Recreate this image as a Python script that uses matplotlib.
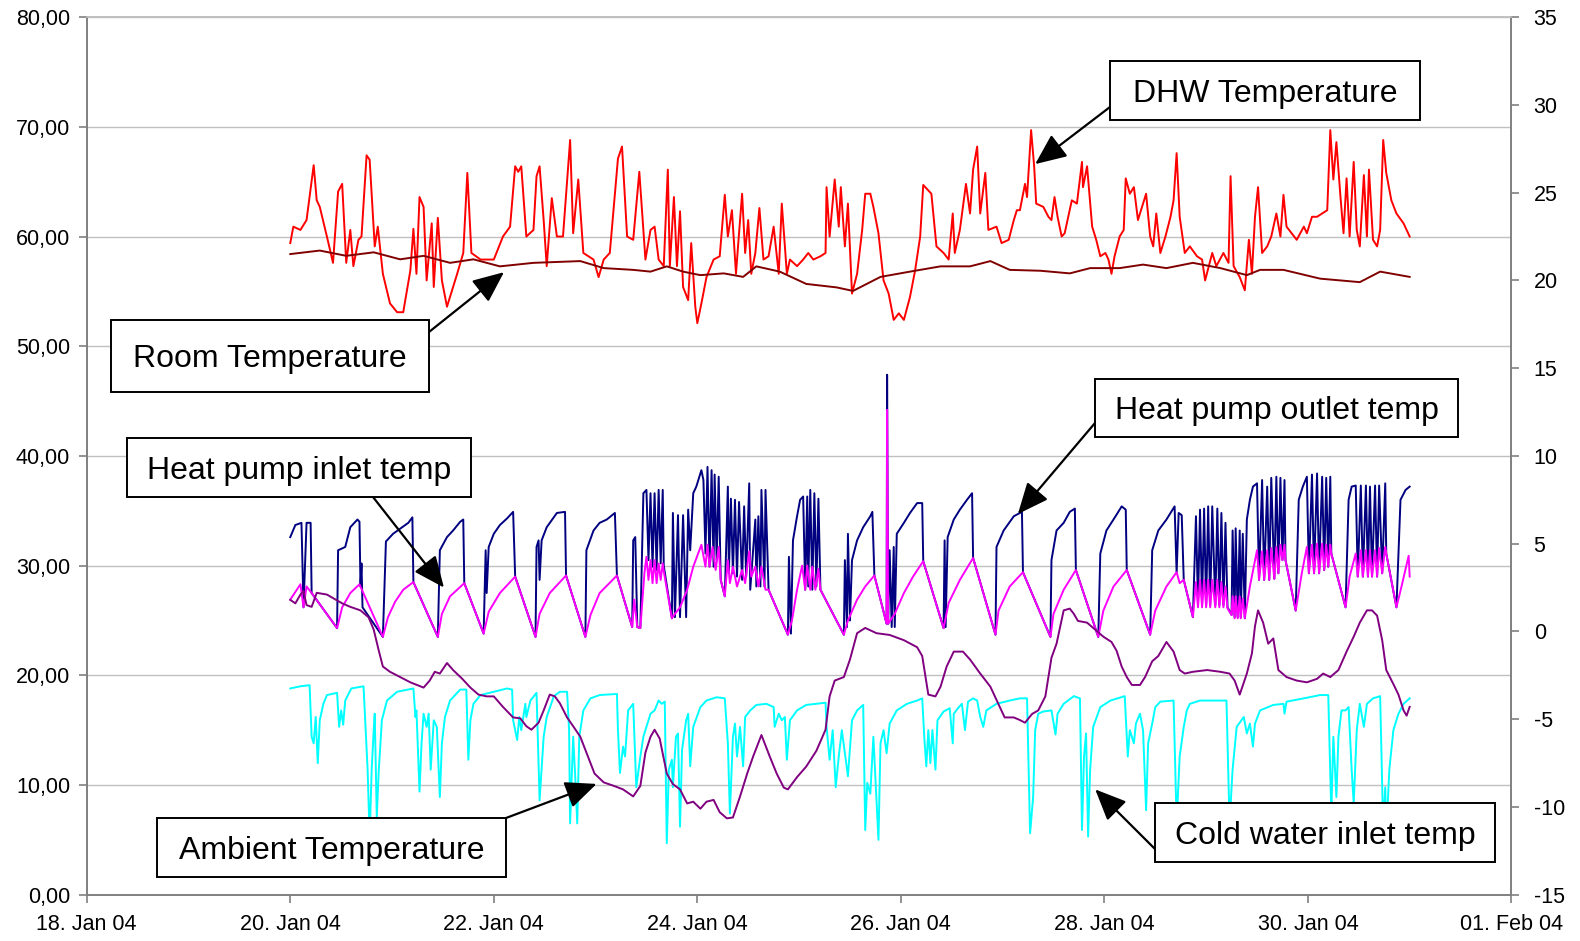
import matplotlib
matplotlib.use("Agg")
import matplotlib.pyplot as plt
import matplotlib.dates as mdates
from matplotlib.patches import Rectangle
from matplotlib.ticker import FuncFormatter, MultipleLocator
import numpy as np
import pandas as pd

plt.rcParams["font.family"] = ["Liberation Sans", "DejaVu Sans"]
plt.rcParams["axes.unicode_minus"] = False

# (day of January 2004, temperature)
dhw = [(20.00,59.4),(20.03,60.9),(20.10,60.6),(20.16,61.5),(20.23,66.5),(20.26,63.3),(20.29,62.7),(20.36,60.0),(20.42,57.6),(20.47,64.1),(20.51,64.8),(20.55,57.6),(20.59,60.6),(20.62,57.3),(20.67,59.7),(20.70,60.0),(20.75,67.4),(20.78,67.0),(20.83,59.1),(20.86,60.9),(20.91,56.6),(20.98,53.9),(21.05,53.1),(21.11,53.1),(21.18,56.9),(21.21,60.7),(21.24,56.6),(21.27,63.6),(21.31,62.7),(21.34,56.0),(21.39,61.2),(21.41,55.4),(21.45,61.7),(21.49,56.0),(21.54,53.6),(21.64,56.6),(21.70,58.5),(21.74,65.8),(21.78,58.5),(21.87,57.9),(22.00,57.9),(22.09,60.0),(22.16,60.9),(22.21,66.4),(22.24,65.9),(22.27,66.4),(22.32,60.0),(22.39,60.6),(22.42,65.5),(22.45,66.4),(22.49,61.5),(22.52,57.3),(22.57,63.5),(22.62,60.0),(22.68,60.0),(22.75,68.8),(22.78,60.3),(22.83,65.2),(22.88,58.5),(22.98,57.9),(23.03,56.3),(23.08,57.9),(23.14,58.5),(23.22,67.1),(23.26,68.2),(23.31,60.0),(23.37,59.7),(23.43,65.9),(23.49,57.9),(23.54,60.6),
       (23.58,60.9),(23.62,57.9),(23.67,57.3),(23.71,66.1),(23.73,57.3),(23.77,63.6),(23.80,57.3),(23.83,62.3),(23.86,55.4),(23.91,54.2),(23.94,59.4),(23.98,53.6),(24.00,52.1),(24.04,53.9),(24.09,56.3),(24.16,57.9),(24.22,58.2),(24.27,63.8),(24.30,60.0),(24.34,62.4),(24.38,56.6),(24.40,59.1),(24.44,63.9),(24.47,58.5),(24.50,61.5),(24.53,56.6),(24.57,58.5),(24.61,62.6),(24.65,57.9),(24.70,58.2),(24.75,60.9),(24.80,56.6),(24.83,63.0),(24.88,56.6),(24.91,57.9),(24.98,57.3),(25.04,57.9),(25.09,58.5),(25.14,57.9),(25.21,58.2),(25.26,58.5),(25.27,64.5),(25.30,60.0),(25.35,65.2),(25.39,60.9),(25.41,64.5),(25.45,59.1),(25.48,63.0),(25.52,54.8),(25.57,56.6),(25.62,60.6),(25.65,63.9),(25.70,63.9),(25.73,62.7),(25.78,60.3),(25.83,56.0),(25.88,54.8),(25.93,52.4),(25.98,53.0),(26.03,52.4),(26.09,54.5),(26.14,56.9),(26.19,60.0),(26.22,64.7),(26.27,64.2),(26.30,63.9),(26.35,59.1),(26.42,58.5),(26.47,57.9),(26.51,62.1),(26.53,58.5),(26.58,60.6),(26.64,64.8),(26.68,62.1),(26.71,66.1),(26.75,68.2),(26.78,62.1),(26.83,65.8),(26.86,60.6),(26.94,60.9),(26.99,59.4),(27.06,59.7),(27.11,61.5),(27.14,62.4),
       (27.17,62.4),(27.22,64.8),(27.24,63.6),(27.28,69.7),(27.31,66.4),(27.33,63.0),(27.40,62.7),(27.45,61.8),(27.48,61.5),(27.51,63.6),(27.54,61.8),(27.58,60.0),(27.61,60.3),(27.68,63.3),(27.73,63.0),(27.78,66.8),(27.79,64.5),(27.83,66.4),(27.88,60.9),(27.92,59.7),(27.96,58.2),(28.01,58.5),(28.04,57.9),(28.07,56.6),(28.10,58.2),(28.15,60.0),(28.19,60.6),(28.21,65.3),(28.25,63.9),(28.29,64.5),(28.33,61.5),(28.38,63.0),(28.41,63.9),(28.45,60.0),(28.48,59.1),(28.51,62.1),(28.55,58.5),(28.60,60.0),(28.65,61.8),(28.68,63.3),(28.71,67.6),(28.74,61.8),(28.79,58.5),(28.84,59.1),(28.91,58.2),(28.96,57.9),(28.99,56.0),(29.06,58.5),(29.10,57.3),(29.17,58.5),(29.22,57.6),(29.24,65.5),(29.27,57.3),(29.33,56.3),(29.38,55.1),(29.42,59.7),(29.45,56.6),(29.48,61.8),(29.51,64.5),(29.55,58.5),(29.60,59.1),(29.64,60.0),(29.69,62.1),(29.73,60.0),(29.76,63.8),(29.79,60.9),(29.84,60.3),(29.89,59.7),(29.96,60.9),(29.99,60.3),(30.04,61.8),(30.09,61.8),(30.14,62.1),(30.19,62.4),(30.22,69.7),(30.25,65.2),(30.28,68.6),(30.32,63.6),(30.35,60.3),(30.38,65.3),(30.41,60.0),(30.45,66.8),(30.48,60.6),(30.51,59.1),(30.55,65.6),(30.58,60.0),(30.60,66.1),(30.64,59.7),(30.68,59.1),(30.71,60.6),(30.74,68.8),(30.77,65.8),(30.82,63.3),(30.87,62.1),(30.94,61.2),(31.00,60.0)]

room = [(20.00,21.5),(20.29,21.7),(20.55,21.4),(20.82,21.6),(21.08,21.2),(21.31,21.4),(21.57,21.0),(21.80,21.2),(22.06,20.8),(22.39,21.0),(22.85,21.1),(23.08,20.7),(23.37,20.6),(23.54,20.5),(23.70,20.8),(23.86,20.5),(24.03,20.3),(24.26,20.4),(24.45,20.2),(24.58,20.8),(24.81,20.5),(25.07,19.8),(25.37,19.6),(25.53,19.4),(25.80,20.2),(26.09,20.5),(26.39,20.8),(26.68,20.8),(26.88,21.1),(27.07,20.6),(27.37,20.55),(27.66,20.4),(27.86,20.7),(28.15,20.7),(28.38,20.9),(28.61,20.7),(28.87,21.0),(29.14,20.7),(29.40,20.3),(29.53,20.6),(29.76,20.6),(30.12,20.1),(30.51,19.9),(30.71,20.5),(31.00,20.2)]

hp_outlet = [(20.00,32.6),(20.05,33.7),(20.11,33.9),(20.13,26.2),(20.16,33.9),(20.20,33.9),(20.21,27.5),(20.46,24.3),(20.47,31.4),(20.54,31.7),(20.59,33.5),(20.66,34.2),(20.68,34.0),(20.69,28.1),(20.70,30.2),(20.71,26.2),(20.91,23.5),(20.94,32.2),(21.01,32.9),(21.10,33.5),(21.16,33.9),(21.20,34.4),(21.21,28.5),(21.45,23.5),(21.47,31.4),(21.54,32.6),(21.60,33.2),(21.67,34.0),(21.70,34.2),(21.71,28.4),(21.90,23.8),(21.92,31.4),(21.93,27.5),(21.95,31.7),(22.00,32.9),(22.06,33.7),(22.13,34.3),(22.19,34.9),(22.21,29.0),(22.41,23.5),(22.42,31.7),(22.44,32.3),(22.45,28.7),(22.47,32.3),(22.52,33.5),(22.62,34.8),(22.70,34.9),(22.71,29.1),(22.90,23.5),(22.91,31.4),(22.98,33.2),(23.04,33.9),(23.11,34.2),(23.19,34.8),(23.21,29.1),(23.36,24.4),(23.37,32.3),(23.39,32.6),(23.41,24.4),(23.44,24.3),
             (23.47,36.6),(23.50,36.9),(23.52,30.5),(23.54,36.6),(23.56,29.9),(23.58,36.6),(23.60,29.6),(23.62,36.9),(23.64,30.2),(23.66,36.9),(23.67,30.0),(23.75,25.2),(23.76,34.8),(23.78,25.3),(23.81,34.6),(23.83,25.3),(23.86,34.6),(23.89,25.3),(23.91,35.1),(23.93,31.4),(23.96,36.6),(23.99,37.2),(24.04,38.7),(24.06,37.8),(24.08,31.1),(24.10,39.0),(24.12,29.9),(24.14,38.7),(24.16,29.9),(24.17,38.3),(24.19,30.5),(24.21,38.1),(24.23,28.7),(24.27,27.2),(24.30,37.2),(24.31,29.3),(24.33,36.1),(24.35,29.3),(24.37,36.0),(24.39,29.0),(24.41,35.8),(24.44,28.7),(24.46,35.4),(24.48,29.0),(24.51,37.5),(24.52,27.8),(24.57,34.2),(24.58,28.1),(24.60,34.5),(24.62,28.1),(24.63,36.9),(24.66,28.1),(24.67,36.9),(24.70,27.8),(24.89,23.7),(24.90,30.8),(24.92,23.8),(24.94,32.3),(24.98,34.5),(25.01,36.0),(25.04,36.3),(25.06,27.8),(25.08,36.3),(25.09,28.1),(25.11,36.9),(25.13,27.8),(25.15,36.6),(25.17,28.1),(25.19,36.1),(25.21,27.8),(25.44,23.7),(25.45,30.5),(25.47,24.4),(25.48,32.9),(25.50,25.0),(25.52,30.5),(25.57,32.3),(25.63,33.5),(25.70,34.5),(25.72,34.9),(25.74,29.1),(25.86,24.7),(25.865,47.4),(25.875,24.7),(25.89,31.4),(25.91,24.4),(25.93,31.7),(25.94,24.4),(25.96,32.9),(26.03,33.9),(26.09,34.8),(26.16,35.7),(26.21,35.7),(26.22,30.4),(26.42,24.3),(26.43,32.3),(26.44,24.4),(26.46,32.6),(26.52,34.2),(26.58,35.1),(26.65,36.0),(26.70,36.6),(26.71,30.7),(26.93,23.7),(26.94,31.7),(27.01,33.2),(27.11,34.5),(27.19,34.9),(27.20,29.4),
             (27.47,23.5),(27.48,30.5),(27.53,33.2),(27.60,33.9),(27.66,34.9),(27.71,35.2),(27.72,29.6),(27.94,23.5),(27.96,31.1),(28.02,33.2),(28.11,34.5),(28.17,35.4),(28.21,35.1),(28.22,29.6),(28.45,23.7),(28.47,31.4),(28.53,33.2),(28.61,34.2),(28.69,35.4),(28.71,29.3),(28.73,34.8),(28.76,34.6),(28.78,28.7),(28.87,25.3),(28.90,34.5),(28.92,26.5),(28.94,35.1),(28.96,26.5),(28.98,35.2),(29.00,26.4),(29.02,35.4),(29.04,26.4),(29.06,35.4),(29.09,26.4),(29.11,35.2),(29.13,26.4),(29.15,34.8),(29.17,26.4),(29.19,33.9),(29.21,26.2),(29.25,25.5),(29.26,33.2),(29.28,25.3),(29.29,33.4),(29.31,25.3),(29.33,33.2),(29.34,25.3),(29.36,32.9),(29.38,25.2),(29.40,34.2),(29.43,36.0),(29.46,37.2),(29.50,37.5),(29.52,28.7),(29.55,37.8),(29.57,28.7),(29.60,37.2),(29.62,28.7),(29.64,38.0),(29.67,28.8),(29.69,38.1),(29.71,29.3),(29.73,38.0),(29.75,30.5),(29.77,37.8),(29.78,30.5),(29.88,25.9),(29.91,36.0),(29.95,37.2),(29.99,38.1),(30.01,29.3),(30.04,38.3),(30.06,29.3),(30.09,38.4),(30.11,29.3),(30.14,38.1),(30.16,29.6),(30.18,38.0),(30.20,29.9),(30.22,38.1),(30.23,31.1),(30.37,26.2),(30.40,36.0),(30.43,37.2),(30.47,37.3),(30.49,29.0),(30.52,37.3),(30.54,29.0),(30.57,37.3),(30.59,29.0),(30.61,37.2),(30.63,29.0),(30.66,37.3),(30.68,29.0),(30.70,37.3),(30.73,29.3),(30.76,37.5),(30.77,31.1),(30.87,26.2),(30.91,36.0),(30.96,36.9),(31.00,37.2)]

hp_inlet = [(20.00,26.9),(20.10,28.3),(20.13,26.2),(20.16,28.1),(20.21,27.5),(20.46,24.3),(20.51,26.2),(20.59,27.5),(20.68,28.3),(20.91,23.5),(20.96,25.3),(21.03,26.7),(21.11,27.8),(21.21,28.5),(21.45,23.5),(21.49,25.6),(21.57,27.2),(21.71,28.4),(21.90,23.8),(21.95,25.8),(22.06,27.5),(22.21,29.0),(22.41,23.5),(22.45,25.6),(22.55,27.5),(22.71,29.1),(22.90,23.5),(22.95,25.5),(23.04,27.5),(23.21,29.1),(23.36,24.4),(23.38,26.9),(23.41,24.4),(23.44,24.3),
            (23.48,29.3),(23.50,30.8),(23.52,28.7),(23.54,30.5),(23.56,28.4),(23.58,30.5),(23.60,28.4),(23.62,30.2),(23.64,28.7),(23.66,30.2),(23.67,29.5),(23.75,25.2),(23.78,25.6),(23.83,26.2),(23.90,27.8),(23.96,29.9),(24.04,31.9),(24.08,29.9),(24.10,31.9),(24.12,29.9),(24.15,31.7),(24.18,29.6),(24.21,31.7),(24.23,28.7),(24.27,27.2),(24.30,30.5),(24.32,28.4),(24.35,29.9),(24.39,28.1),(24.44,29.6),(24.47,28.4),(24.51,31.3),(24.53,29.0),(24.57,29.9),(24.60,28.1),(24.63,29.9),(24.67,27.8),(24.70,27.8),(24.89,23.7),(24.93,25.0),(24.98,27.8),(25.03,30.0),(25.06,27.8),(25.08,30.0),(25.11,27.8),(25.13,29.9),(25.16,27.8),(25.19,29.7),(25.21,27.8),(25.44,23.7),(25.48,25.0),(25.57,26.9),(25.65,28.1),(25.74,29.1),(25.86,24.7),(25.865,44.2),(25.875,24.7),(25.94,25.6),(26.03,27.5),(26.12,29.0),(26.22,30.4),(26.42,24.3),(26.47,26.6),(26.58,28.7),(26.71,30.7),(26.93,23.7),(26.96,25.9),(27.07,28.1),(27.20,29.4),
            (27.47,23.5),(27.50,25.6),(27.60,27.8),(27.72,29.6),(27.94,23.5),(27.99,25.9),(28.09,28.1),(28.22,29.6),(28.45,23.7),(28.50,25.9),(28.61,28.1),(28.71,29.4),(28.74,28.4),(28.78,28.7),(28.87,25.3),(28.90,28.5),(28.92,26.2),(28.94,28.7),(28.96,26.2),(28.98,28.7),(29.00,26.2),(29.02,28.7),(29.04,26.2),(29.06,28.7),(29.09,26.2),(29.11,28.7),(29.13,26.2),(29.15,28.5),(29.17,26.2),(29.19,28.1),(29.21,26.1),(29.25,25.5),(29.26,27.2),(29.28,25.2),(29.29,27.2),(29.31,25.2),(29.33,27.2),(29.34,25.2),(29.36,27.0),(29.38,25.2),(29.43,28.1),(29.50,31.4),(29.52,28.7),(29.55,31.3),(29.57,28.7),(29.60,31.4),(29.62,28.7),(29.64,31.6),(29.67,28.8),(29.69,31.7),(29.71,29.3),(29.73,31.9),(29.75,30.5),(29.77,31.9),(29.78,30.5),(29.88,25.9),(29.94,29.3),(29.99,31.7),(30.01,29.3),(30.04,31.9),(30.06,29.3),(30.09,32.0),(30.11,29.3),(30.14,32.0),(30.16,29.6),(30.18,31.9),(30.20,29.9),(30.22,31.9),(30.23,31.1),(30.37,26.2),(30.41,29.0),(30.47,31.1),(30.49,29.0),(30.52,31.4),(30.54,29.0),(30.57,31.4),(30.59,29.0),(30.61,31.4),(30.63,29.0),(30.66,31.4),(30.68,29.0),(30.70,31.6),(30.73,29.3),(30.76,31.7),(30.77,31.1),(30.87,26.2),(30.92,28.1),(30.99,30.9),(31.00,29.0)]

cold_water = [(20.00,18.8),(20.10,19.0),(20.19,19.1),(20.21,14.4),(20.23,13.8),(20.25,16.2),(20.27,12.0),(20.29,15.9),(20.325,17.4),(20.36,18.2),(20.46,18.4),(20.48,15.3),(20.50,16.8),(20.52,15.5),(20.54,17.7),(20.60,18.8),(20.72,19.0),(20.76,11.4),(20.78,5.3),(20.80,11.4),(20.82,15.0),(20.83,16.5),(20.85,7.1),(20.87,11.4),(20.90,15.9),(20.95,17.7),(21.05,18.5),(21.21,18.8),(21.23,16.2),(21.24,16.8),(21.27,9.4),(21.29,13.8),(21.31,16.5),(21.34,15.3),(21.36,16.5),(21.38,11.4),(21.41,15.9),(21.44,15.3),(21.47,8.9),(21.49,13.8),(21.52,16.2),(21.57,17.7),(21.67,18.7),(21.73,18.7),(21.75,12.3),(21.77,15.9),(21.80,17.4),(21.87,18.2),(22.00,18.5),(22.13,18.8),(22.18,18.7),(22.19,15.9),(22.23,14.1),(22.25,16.2),(22.27,15.0),(22.31,17.4),(22.32,16.2),(22.36,17.7),(22.42,18.4),(22.45,8.6),(22.49,14.4),(22.52,16.2),(22.59,18.1),(22.65,18.5),(22.72,18.5),(22.74,15.0),(22.75,6.5),(22.78,14.4),(22.80,10.8),(22.82,6.5),(22.84,14.4),(22.88,16.8),(22.95,17.9),(23.04,18.2),(23.21,18.3),(23.22,15.0),(23.24,11.1),(23.27,13.5),(23.29,12.6),(23.32,16.8),(23.37,17.4),(23.40,9.8),(23.44,12.6),(23.47,14.4),(23.54,16.5),
              (23.58,16.8),(23.62,17.7),(23.65,17.4),(23.68,17.6),(23.70,4.7),(23.72,11.4),(23.75,12.3),(23.76,9.8),(23.79,14.4),(23.81,14.7),(23.83,6.2),(23.85,13.2),(23.89,15.9),(23.91,16.5),(23.93,11.7),(23.96,15.3),(24.03,17.1),(24.09,17.7),(24.19,18.0),(24.27,17.9),(24.30,13.8),(24.32,7.4),(24.35,14.4),(24.37,15.6),(24.39,12.6),(24.42,15.3),(24.45,11.7),(24.47,16.2),(24.52,16.8),(24.58,17.3),(24.68,17.4),(24.75,17.1),(24.76,15.3),(24.80,16.5),(24.83,15.9),(24.86,16.2),(24.88,12.3),(24.91,15.9),(24.98,16.8),(25.07,17.3),(25.17,17.4),(25.26,17.5),(25.27,15.3),(25.30,12.3),(25.33,15.0),(25.36,9.8),(25.39,12.6),(25.42,15.0),(25.48,10.8),(25.52,15.9),(25.57,16.8),(25.63,17.3),(25.65,5.9),(25.67,10.2),(25.70,9.2),(25.73,14.4),(25.78,5.0),(25.80,13.8),(25.83,15.0),(25.86,12.9),(25.89,15.6),(25.96,16.8),(26.06,17.4),(26.16,17.7),(26.21,17.9),(26.23,14.4),(26.25,11.7),(26.27,15.0),(26.29,12.0),(26.31,15.0),(26.34,11.4),(26.36,15.9),(26.42,16.7),(26.48,17.0),(26.51,13.8),(26.52,16.5),(26.57,17.1),(26.60,17.4),(26.63,15.0),(26.66,17.6),(26.71,17.9),(26.75,17.7),(26.78,16.2),(26.81,15.3),(26.84,16.8),(26.94,17.4),(27.07,17.7),(27.17,17.9),
              (27.24,17.9),(27.27,5.6),(27.30,8.9),(27.32,15.0),(27.35,16.5),(27.40,16.7),(27.48,16.8),(27.52,14.6),(27.54,16.5),(27.60,17.4),(27.70,18.1),(27.76,17.9),(27.78,5.9),(27.80,12.6),(27.82,14.7),(27.84,5.3),(27.86,11.4),(27.89,15.3),(27.96,17.1),(28.06,17.7),(28.20,18.1),(28.23,12.6),(28.25,15.0),(28.29,13.8),(28.31,15.6),(28.35,16.5),(28.38,15.0),(28.41,7.7),(28.43,13.8),(28.47,15.6),(28.50,17.1),(28.55,17.6),(28.68,17.7),(28.71,6.5),(28.74,12.6),(28.78,15.3),(28.81,16.8),(28.84,17.4),(28.94,17.7),(29.20,17.7),(29.23,6.5),(29.26,11.4),(29.30,15.3),(29.37,16.2),(29.40,14.7),(29.43,15.6),(29.46,13.5),(29.48,15.6),(29.53,16.8),(29.66,17.3),(29.76,17.4),(29.77,16.5),(29.79,17.6),(29.96,17.9),(30.12,18.2),(30.20,18.2),(30.23,7.4),(30.25,14.4),(30.28,8.9),(30.30,14.4),(30.33,16.8),(30.37,16.8),(30.40,17.1),(30.43,11.4),(30.45,8.3),(30.48,15.0),(30.51,17.4),(30.55,15.3),(30.58,17.4),(30.64,17.9),(30.71,18.1),(30.74,5.9),(30.76,9.8),(30.77,5.3),(30.80,11.4),(30.84,15.0),(30.89,16.5),(30.94,17.4),(31.00,17.9)]

ambient = [(20.00,1.8),(20.05,1.6),(20.10,2.1),(20.13,2.3),(20.16,1.5),(20.21,1.4),(20.26,2.2),(20.36,2.1),(20.42,1.9),(20.51,1.6),(20.59,1.4),(20.69,1.2),(20.77,0.8),(20.82,0.1),(20.87,-1.1),(20.91,-2.0),(20.98,-2.3),(21.08,-2.6),(21.18,-2.9),(21.31,-3.2),(21.37,-2.8),(21.42,-2.3),(21.47,-2.4),(21.54,-1.8),(21.60,-2.2),(21.69,-2.7),(21.77,-3.2),(21.85,-3.6),(21.93,-3.7),(22.00,-3.7),(22.09,-4.3),(22.19,-4.9),(22.26,-4.95),(22.32,-5.4),(22.37,-5.6),(22.44,-5.2),(22.49,-4.5),(22.55,-3.6),(22.60,-3.7),(22.65,-4.1),(22.72,-4.9),(22.78,-5.4),(22.85,-6.0),(22.91,-6.9),(22.99,-8.1),(23.08,-8.6),(23.18,-8.8),(23.27,-9.0),(23.37,-9.4),(23.44,-8.8),(23.49,-6.9),(23.54,-6.0),
           (23.58,-5.6),(23.63,-6.1),(23.70,-8.1),(23.76,-8.7),(23.83,-9.0),(23.90,-9.8),(23.96,-9.7),(24.03,-10.1),(24.09,-9.7),(24.16,-9.6),(24.22,-10.3),(24.29,-10.65),(24.35,-10.6),(24.42,-9.4),(24.49,-8.1),(24.55,-7.1),(24.63,-5.9),(24.71,-7.1),(24.78,-8.1),(24.85,-8.9),(24.89,-9.0),(24.98,-8.3),(25.07,-7.7),(25.17,-6.8),(25.26,-5.6),(25.30,-3.7),(25.35,-2.8),(25.44,-2.6),(25.50,-1.6),(25.57,-0.1),(25.65,0.2),(25.76,-0.1),(25.89,-0.2),(26.03,-0.5),(26.16,-0.9),(26.21,-1.4),(26.27,-3.6),(26.34,-3.7),(26.39,-3.15),(26.45,-2.0),(26.52,-1.15),(26.61,-1.15),(26.68,-1.6),(26.78,-2.4),(26.88,-3.15),(26.94,-3.9),(27.02,-4.9),(27.11,-4.9),(27.17,-5.05),
           (27.22,-5.2),(27.29,-4.7),(27.35,-4.5),(27.42,-3.7),(27.48,-1.5),(27.53,-0.7),(27.60,1.2),(27.66,1.3),(27.70,1.0),(27.74,0.6),(27.83,0.5),(27.91,0.1),(27.99,-0.3),(28.07,-0.6),(28.12,-1.1),(28.17,-2.0),(28.22,-2.6),(28.27,-3.05),(28.35,-3.05),(28.40,-2.6),(28.47,-1.7),(28.53,-1.4),(28.58,-0.9),(28.61,-0.6),(28.68,-1.15),(28.74,-2.2),(28.79,-2.4),(28.87,-2.3),(29.01,-2.2),(29.14,-2.3),(29.23,-2.4),(29.28,-2.8),(29.33,-3.6),(29.40,-2.4),(29.45,-1.25),(29.48,0.3),(29.51,1.2),(29.56,0.5),(29.61,-0.7),(29.66,-0.4),(29.71,-2.2),(29.79,-2.6),(29.89,-2.8),(29.99,-2.9),(30.09,-2.7),(30.15,-2.4),(30.22,-2.6),(30.30,-2.2),(30.38,-1.15),(30.45,-0.3),(30.51,0.5),(30.58,1.2),(30.63,1.2),(30.68,0.9),(30.73,-0.5),(30.77,-2.2),(30.84,-3.0),(30.89,-3.6),(30.94,-4.5),(30.97,-4.8),(31.00,-4.3)]

date_ticks = pd.date_range("2004-01-18", "2004-02-01", freq="2D")

W, H = 1580, 941


def unpack(series):
    days = np.array([p[0] for p in series])
    vals = np.array([p[1] for p in series])
    dates = pd.Timestamp("2004-01-01") + pd.to_timedelta(days - 1, unit="D")
    return dates, vals


def day_num(day):
    return mdates.date2num(pd.Timestamp("2004-01-01") + pd.Timedelta(days=day - 1))


fig = plt.figure(figsize=(W / 100, H / 100), dpi=100)
ax = fig.add_axes([0.0549, 0.0492, 0.9017, 0.9326])
ax2 = ax.twinx()

lw = 1.4
for series, color in [(hp_outlet, "#000080"), (hp_inlet, "#FF00FF"),
                      (cold_water, "#00FFFF"), (dhw, "#FF0000")]:
    d, v = unpack(series)
    ax.plot(d, v, color=color, lw=lw)
for series, color in [(room, "#800000"), (ambient, "#800080")]:
    d, v = unpack(series)
    ax2.plot(d, v, color=color, lw=lw)

ax.set_xlim(date_ticks[0], date_ticks[-1])
ax.set_ylim(0, 80)
ax2.set_ylim(-15, 35)
ax.set_xticks(date_ticks)
ax.xaxis.set_major_formatter(mdates.DateFormatter("%d. %b %y"))
ax.yaxis.set_major_locator(MultipleLocator(10))
ax.yaxis.set_major_formatter(FuncFormatter(lambda v, p: f"{v:.2f}".replace(".", ",")))
ax2.yaxis.set_major_locator(MultipleLocator(5))

ax.grid(axis="y", color="#c0c0c0", lw=1)
ax.set_axisbelow(True)
for a in (ax, ax2):
    for s in a.spines.values():
        s.set_color("#808080")
        s.set_linewidth(1.2)
    a.spines["top"].set_color("#c0c0c0")
    a.tick_params(colors="#808080", labelcolor="black", labelsize=15.5, length=6, width=1.2, direction="out")
ax.tick_params(axis="x", pad=8)
ax.tick_params(axis="y", pad=6)
ax2.tick_params(axis="y", pad=10)

# label boxes: text, box (x0, y0, x1, y1) in pixels from top-left, arrow start, arrow head (day, left-axis value)
notes = [
    ("DHW Temperature", (1110, 61, 1420, 120), (1110, 107), (27.32, 66.6)),
    ("Room Temperature", (111, 320, 429, 392), (429, 332), (22.10, 56.75)),
    ("Heat pump outlet temp", (1095, 379, 1458, 437), (1095, 423), (27.15, 34.7)),
    ("Heat pump inlet temp", (127, 438, 471, 497), (373, 497), (21.51, 28.0)),
    ("Ambient Temperature", (157, 818, 506, 877), (506, 818), (23.01, 10.1)),
    ("Cold water inlet temp", (1155, 803, 1495, 862), (1155, 849), (27.91, 9.6)),
]
for text, (x0, y0, x1, y1), (sx, sy), (day, val) in notes:
    ax2.annotate("", xy=(day_num(day), val), xycoords=ax.transData,
                 xytext=(sx / W, 1 - sy / H), textcoords="figure fraction",
                 annotation_clip=False,
                 arrowprops=dict(arrowstyle="-|>,head_length=0.8,head_width=0.35",
                                 color="black", lw=1.6, mutation_scale=24,
                                 shrinkA=0, shrinkB=0))
    fig.patches.append(Rectangle((x0 / W, 1 - y1 / H), (x1 - x0) / W, (y1 - y0) / H,
                                 transform=fig.transFigure, fc="white", ec="black",
                                 lw=1.4, zorder=5))
    cy = (y0 + y1) / 2 + 11.5
    fig.text((x0 + x1) / 2 / W, 1 - cy / H, text, ha="center", va="baseline",
             fontsize=23, zorder=6)

fig.savefig("out.png", dpi=100)
